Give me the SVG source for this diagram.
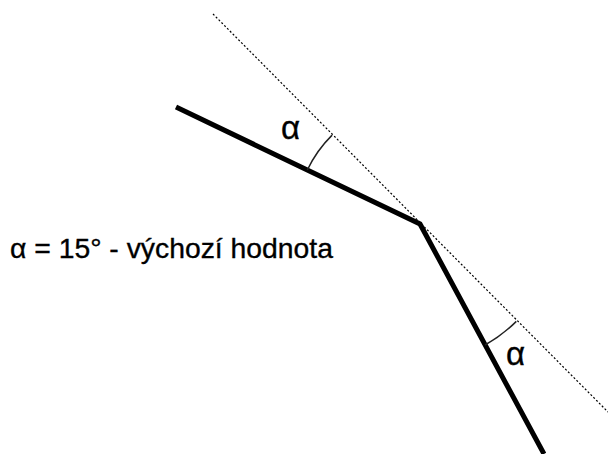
<svg xmlns="http://www.w3.org/2000/svg" width="608" height="454" viewBox="0 0 608 454">
<style>
.thick{stroke:#000;stroke-width:5;fill:none;stroke-linejoin:miter}
.dot{stroke:#000;stroke-width:1.2;stroke-dasharray:2 2;fill:none}
.arc{stroke:#222;stroke-width:1.5;fill:none}
text{font-family:"Liberation Sans",Arial,sans-serif;fill:#000;stroke:#000;stroke-width:0.35}
.a{font-size:33px}
.m{font-size:28px}
</style>
<rect width="608" height="454" fill="#fff"/>
<g id="connectors">
<line class="dot" x1="213" y1="14" x2="608" y2="412"/>
<polyline class="thick" points="176,107 420,224 544,454"/>
<path class="arc" d="M307.3,170 A125,125 0 0 1 332.1,135.1"/>
<path class="arc" d="M485,345 A137,137 0 0 0 516.3,321.4"/>
</g>
<g id="labels">
<text class="a" x="281" y="139">α</text>
<text class="a" x="506" y="365">α</text>
<text class="m" x="10" y="258" textLength="323" lengthAdjust="spacingAndGlyphs">α = 15° - výchozí hodnota</text>
</g>
</svg>
